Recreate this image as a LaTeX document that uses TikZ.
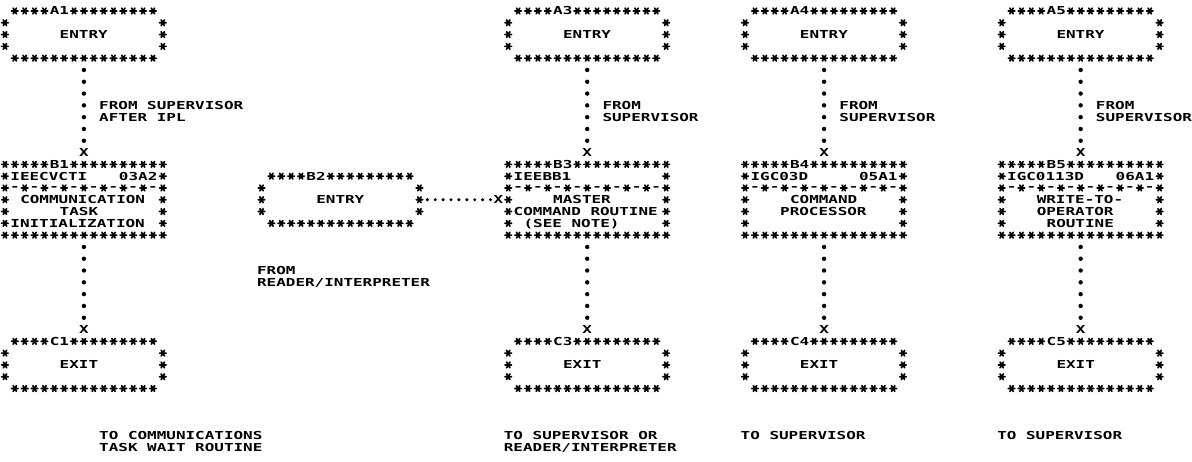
\documentclass[tikz,border=0pt]{standalone}
\usepackage{fontspec}
\newfontfamily\ibm[FakeStretch=1.45]{DejaVu Sans Mono}
\newcommand\ibmfont{\ibm\bfseries\fontsize{11pt}{13pt}\selectfont}
\begin{document}
\begin{tikzpicture}[x=9.87pt, y=-11.8pt,
    txt/.style={font=\ibmfont, inner sep=0pt, anchor=base west, xshift=-4.6pt, yshift=-4pt},
    mid/.style={font=\ibmfont, inner sep=0pt, anchor=base},
    dsh/.style={mid, yshift=-3pt},
    xm/.style={mid, yshift=-4pt},
    st/.pic={\draw[line width=1.7pt, line cap=round]
      (-3.3pt,0) -- (3.3pt,0) (-1.65pt,-2.85pt) -- (1.65pt,2.85pt) (1.65pt,-2.85pt) -- (-1.65pt,2.85pt);},
    vdots/.style={line width=4.4pt, line cap=round, dash pattern=on 0pt off 11.8pt,
      shorten <=11.8pt, shorten >=11.7pt},
    hdots/.style={line width=3.4pt, line cap=round, dash pattern=on 0pt off 7.9pt,
      shorten <=7.9pt, shorten >=7.8pt}]
  \fill[white] (-0.5,-0.93) rectangle (120.27,38.22);

  % entry and exit boxes
  \foreach \l/\c/\r/\t in {A1/0/0/ENTRY, A3/51/0/ENTRY, A4/75/0/ENTRY, A5/101/0/ENTRY,
      B2/26/14/ENTRY, C1/0/28/EXIT, C3/51/28/EXIT, C4/75/28/EXIT, C5/101/28/EXIT} {
    \node[txt] (\l) at (\c+5,\r) {\l};
    \foreach \i in {1,2,3,4,7,8,...,15} \pic at (\c+\i,\r) {st};
    \foreach \i in {1,...,15} \pic at (\c+\i,\r+4) {st};
    \foreach \j in {1,2,3} {
      \pic at (\c,\r+\j) {st};
      \pic at (\c+16,\r+\j) {st};
    }
    \node[txt] (\l-txt) at (\c+6,\r+2) {\t};
    \coordinate (\l-s) at (\c+8,\r+4);
  }

  % process boxes
  \foreach \l/\c/\id/\code in {B1/0/IEECVCTI/03A2, B3/51/IEEBB1/, B4/75/IGC03D/05A1,
      B5/101/IGC0113D/06A1} {
    \node[txt] (\l) at (\c+5,13) {\l};
    \foreach \i in {0,1,2,3,4,7,8,...,16} \pic at (\c+\i,13) {st};
    \foreach \i in {0,2,...,16} \pic at (\c+\i,15) {st};
    \foreach \i in {1,3,...,15} \node[dsh] (\l-d\i) at (\c+\i,15) {-};
    \foreach \i in {0,...,16} \pic at (\c+\i,19) {st};
    \foreach \j in {14,16,17,18} {
      \pic at (\c,\j) {st};
      \pic at (\c+16,\j) {st};
    }
    \node[txt] (\l-id) at (\c+1,14) {\id};
    \node[txt] (\l-code) at (\c+12,14) {\code};
    \node[xm] (\l-x) at (\c+8,12) {X};
    \coordinate (\l-s) at (\c+8,19);
  }
  \foreach \l/\c in {C1/0, C3/51, C4/75, C5/101}
    \node[xm] (\l-x) at (\c+8,27) {X};

  \node[txt] (b1a) at (2,16) {COMMUNICATION};
  \node[txt] (b1b) at (6,17) {TASK};
  \node[txt] (b1c) at (1,18) {INITIALIZATION};
  \node[txt] (b3a) at (56,16) {MASTER};
  \node[txt] (b3b) at (52,17) {COMMAND ROUTINE};
  \node[txt] (b3c) at (53,18) {(SEE NOTE)};
  \node[txt] (b4a) at (80,16) {COMMAND};
  \node[txt] (b4b) at (79,17) {PROCESSOR};
  \node[txt] (b5a) at (105,16) {WRITE-TO-};
  \node[txt] (b5b) at (105,17) {OPERATOR};
  \node[txt] (b5c) at (106,18) {ROUTINE};

  % connectors
  \foreach \a/\b in {A1/B1, A3/B3, A4/B4, A5/B5, B1/C1, B3/C3, B4/C4, B5/C5}
    \draw[vdots] (\a-s) -- (\b-x.center);
  \coordinate (B2-e) at (42,16);
  \node[xm] (B3-w) at (50,16) {X};
  \draw[hdots] (B2-e) -- (B3-w.center);

  % from / to notes
  \node[txt] (f1a) at (10,8) {FROM SUPERVISOR};
  \node[txt] (f1b) at (10,9) {AFTER IPL};
  \node[txt] (f2a) at (26,22) {FROM};
  \node[txt] (f2b) at (26,23) {READER/INTERPRETER};
  \node[txt] (f3a) at (61,8) {FROM};
  \node[txt] (f3b) at (61,9) {SUPERVISOR};
  \node[txt] (f4a) at (85,8) {FROM};
  \node[txt] (f4b) at (85,9) {SUPERVISOR};
  \node[txt] (f5a) at (111,8) {FROM};
  \node[txt] (f5b) at (111,9) {SUPERVISOR};
  \node[txt] (t1a) at (10,36) {TO COMMUNICATIONS};
  \node[txt] (t1b) at (10,37) {TASK WAIT ROUTINE};
  \node[txt] (t3a) at (51,36) {TO SUPERVISOR OR};
  \node[txt] (t3b) at (51,37) {READER/INTERPRETER};
  \node[txt] (t4a) at (75,36) {TO SUPERVISOR};
  \node[txt] (t5a) at (101,36) {TO SUPERVISOR};
\end{tikzpicture}
\end{document}
